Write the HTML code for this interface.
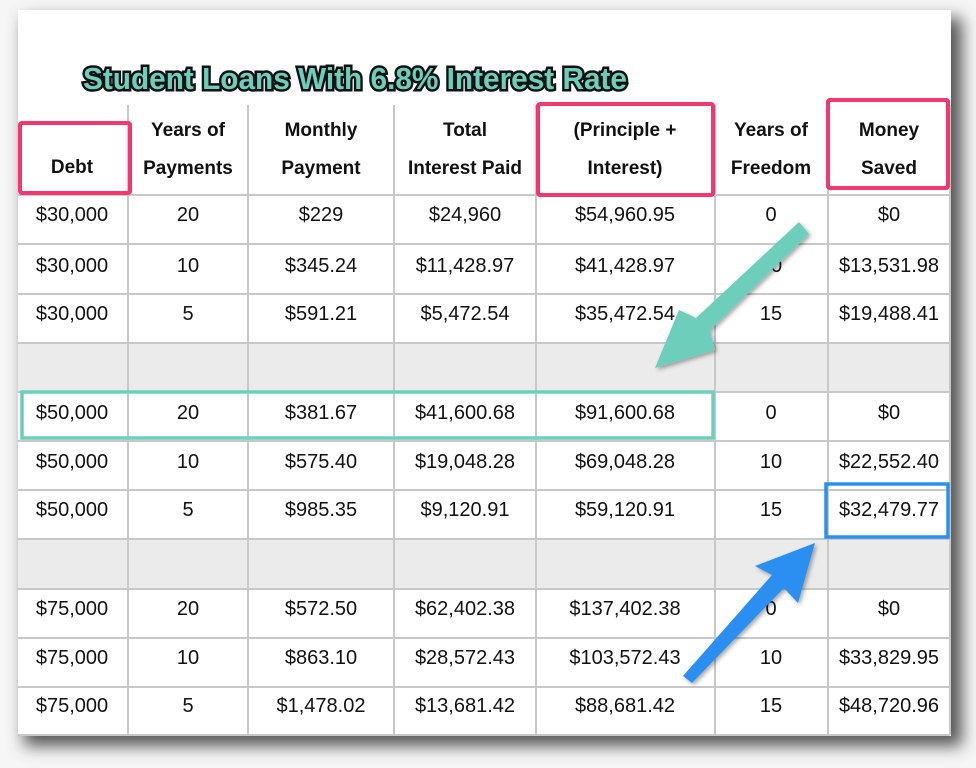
<!DOCTYPE html>
<html><head><style>
html,body{margin:0;padding:0;background:#fff;}
svg{display:block;font-family:"Liberation Sans",Arial,sans-serif;}
</style></head><body>
<svg width="976" height="768" viewBox="0 0 976 768">
<defs>
<filter id="sh" x="-10%" y="-10%" width="130%" height="130%"><feGaussianBlur stdDeviation="8"/></filter>
<filter id="ash"><feDropShadow dx="2" dy="2" stdDeviation="2" flood-opacity="0.35"/></filter>
</defs>
<rect width="976" height="768" fill="#f6f6f6"/>
<rect x="24" y="18" width="938" height="728" fill="#555" filter="url(#sh)"/>
<rect x="18" y="10" width="933" height="726" fill="#fff"/>
<rect x="18" y="343" width="932" height="49" fill="#ebebeb"/>
<rect x="18" y="539" width="932" height="50" fill="#ebebeb"/>
<g stroke="#c8c8c8" stroke-width="2">
<line x1="128" y1="105" x2="128" y2="735"/><line x1="248" y1="105" x2="248" y2="735"/>
<line x1="394" y1="105" x2="394" y2="735"/><line x1="536" y1="105" x2="536" y2="735"/>
<line x1="715" y1="105" x2="715" y2="735"/><line x1="828" y1="105" x2="828" y2="735"/>
<line x1="950" y1="105" x2="950" y2="735"/>
<line x1="18" y1="195" x2="950" y2="195"/><line x1="18" y1="244" x2="950" y2="244"/>
<line x1="18" y1="294" x2="950" y2="294"/><line x1="18" y1="343" x2="950" y2="343"/>
<line x1="18" y1="392" x2="950" y2="392"/><line x1="18" y1="441" x2="950" y2="441"/>
<line x1="18" y1="490" x2="950" y2="490"/><line x1="18" y1="539" x2="950" y2="539"/>
<line x1="18" y1="589" x2="950" y2="589"/><line x1="18" y1="638" x2="950" y2="638"/>
<line x1="18" y1="687" x2="950" y2="687"/><line x1="18" y1="735" x2="950" y2="735"/>
</g>
<text x="83" y="89" textLength="544" lengthAdjust="spacingAndGlyphs" font-size="31" font-weight="bold" fill="#6dcfbb" stroke="#111" stroke-width="5" paint-order="stroke">Student Loans With 6.8% Interest Rate</text>
<g font-size="19" font-weight="bold" fill="#111" text-anchor="middle">
<text x="72" y="173">Debt</text>
<text x="188" y="136">Years of</text><text x="188" y="174">Payments</text>
<text x="321" y="136">Monthly</text><text x="321" y="174">Payment</text>
<text x="465" y="136">Total</text><text x="465" y="174">Interest Paid</text>
<text x="625" y="136">(Principle +</text><text x="625" y="174">Interest)</text>
<text x="771" y="136">Years of</text><text x="771" y="174">Freedom</text>
<text x="889" y="136">Money</text><text x="889" y="174">Saved</text>
</g>
<g font-size="20" fill="#111" text-anchor="middle">
<g transform="translate(0,221)"><text x="72">$30,000</text><text x="188">20</text><text x="321">$229</text><text x="465">$24,960</text><text x="625">$54,960.95</text><text x="771">0</text><text x="889">$0</text></g>
<g transform="translate(0,272)"><text x="72">$30,000</text><text x="188">10</text><text x="321">$345.24</text><text x="465">$11,428.97</text><text x="625">$41,428.97</text><text x="771">10</text><text x="889">$13,531.98</text></g>
<g transform="translate(0,320)"><text x="72">$30,000</text><text x="188">5</text><text x="321">$591.21</text><text x="465">$5,472.54</text><text x="625">$35,472.54</text><text x="771">15</text><text x="889">$19,488.41</text></g>
<g transform="translate(0,419)"><text x="72">$50,000</text><text x="188">20</text><text x="321">$381.67</text><text x="465">$41,600.68</text><text x="625">$91,600.68</text><text x="771">0</text><text x="889">$0</text></g>
<g transform="translate(0,468)"><text x="72">$50,000</text><text x="188">10</text><text x="321">$575.40</text><text x="465">$19,048.28</text><text x="625">$69,048.28</text><text x="771">10</text><text x="889">$22,552.40</text></g>
<g transform="translate(0,516)"><text x="72">$50,000</text><text x="188">5</text><text x="321">$985.35</text><text x="465">$9,120.91</text><text x="625">$59,120.91</text><text x="771">15</text><text x="889">$32,479.77</text></g>
<g transform="translate(0,615)"><text x="72">$75,000</text><text x="188">20</text><text x="321">$572.50</text><text x="465">$62,402.38</text><text x="625">$137,402.38</text><text x="771">0</text><text x="889">$0</text></g>
<g transform="translate(0,664)"><text x="72">$75,000</text><text x="188">10</text><text x="321">$863.10</text><text x="465">$28,572.43</text><text x="625">$103,572.43</text><text x="771">10</text><text x="889">$33,829.95</text></g>
<g transform="translate(0,712)"><text x="72">$75,000</text><text x="188">5</text><text x="321">$1,478.02</text><text x="465">$13,681.42</text><text x="625">$88,681.42</text><text x="771">15</text><text x="889">$48,720.96</text></g>
</g>
<g fill="none" stroke-width="4">
<rect x="20" y="123" width="110" height="70" stroke="#f2386e" rx="2"/>
<rect x="538" y="104" width="175" height="91" stroke="#f2386e" rx="2"/>
<rect x="828" y="100" width="120" height="88" stroke="#f2386e" rx="2"/>
<rect x="22" y="392" width="691" height="46" stroke="#6dcfbb" stroke-width="3.5"/>
<rect x="826" y="484" width="122" height="53" stroke="#2a8ff0" stroke-width="3.5"/>
</g>
<path d="M799,222 L809,234 L710,330 L715,350 L655,368 L679,310 L696,318 Z" fill="#6dcfbb" filter="url(#ash)"/>
<path d="M683,676 L692,683 L784,588 L798,603 L815,543 L755,566 L772,575 Z" fill="#2a8ff0" filter="url(#ash)"/>
</svg>
</body></html>
